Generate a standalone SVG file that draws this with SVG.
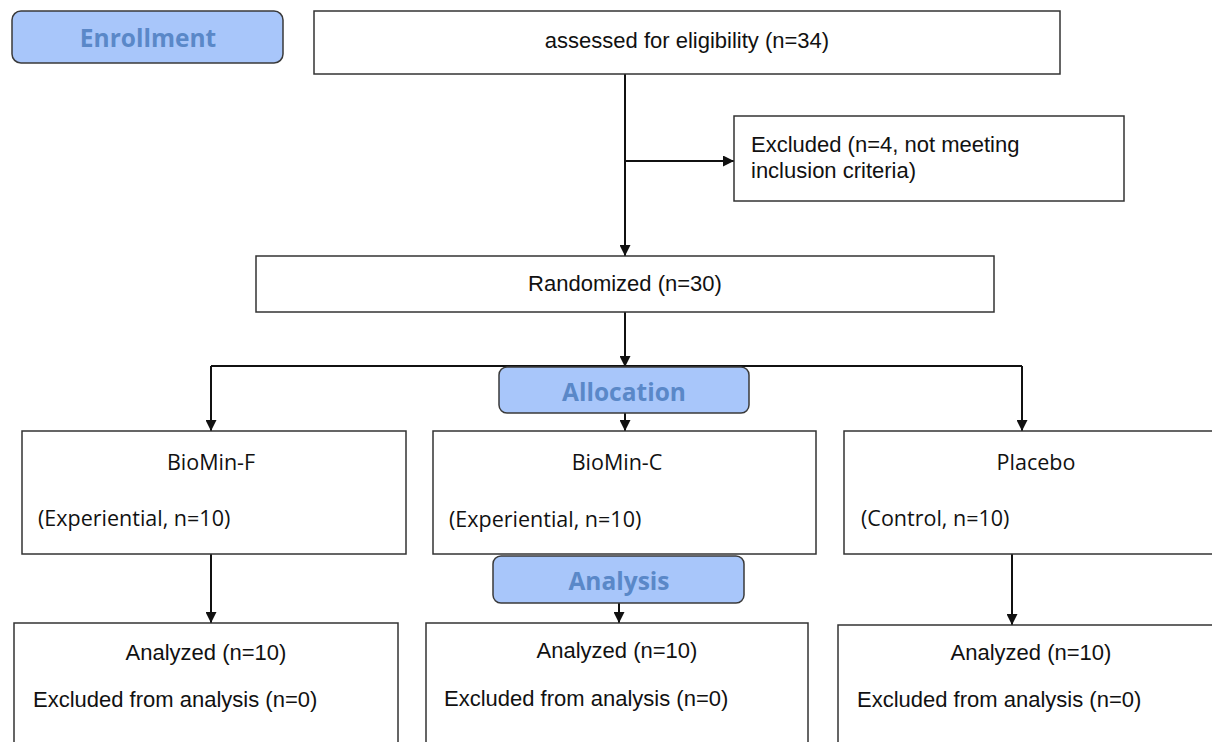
<svg xmlns="http://www.w3.org/2000/svg" width="1212" height="742" viewBox="0 0 1212 742">
<style>
.box{fill:#ffffff;stroke:#333333;stroke-width:1.5}
.hdr{fill:#a8c6fa;stroke:#3a3a3a;stroke-width:1.5}
.ht{font-family:"Open Sans","Liberation Sans",sans-serif;font-weight:bold;font-size:24.5px;fill:#5a88c8;text-anchor:middle}
.t{font-family:"Liberation Sans",Arial,sans-serif;font-size:22px;fill:#111111}
.c{font-family:"Open Sans","Liberation Sans",sans-serif;font-size:21.5px;fill:#111111}
.mid{text-anchor:middle}
.ln{fill:none;stroke:#111111;stroke-width:2}
</style>
<defs>
<marker id="arr" viewBox="0 0 10 10" refX="10" refY="5" markerWidth="11" markerHeight="11" markerUnits="userSpaceOnUse" orient="auto">
<path d="M0,0 L10,5 L0,10 z" fill="#111111"/>
</marker>
</defs>
<rect width="1212" height="742" fill="#ffffff"/>
<g id="connectors">
<path class="ln" d="M625,74 V256" marker-end="url(#arr)"/>
<path class="ln" d="M625,161 H734" marker-end="url(#arr)"/>
<path class="ln" d="M625,312 V367" marker-end="url(#arr)"/>
<path class="ln" d="M211,366 H1022"/>
<path class="ln" d="M211,366 V431" marker-end="url(#arr)"/>
<path class="ln" d="M1022,366 V431" marker-end="url(#arr)"/>
<path class="ln" d="M625,413 V431" marker-end="url(#arr)"/>
<path class="ln" d="M211,554 V623" marker-end="url(#arr)"/>
<path class="ln" d="M619,603 V623" marker-end="url(#arr)"/>
<path class="ln" d="M1012,554 V625" marker-end="url(#arr)"/>
</g>
<g id="enrollment">
<rect class="hdr" x="12" y="11" width="271" height="52" rx="9"/>
<text class="ht" x="148" y="47">Enrollment</text>
</g>
<g id="assessed">
<rect class="box" x="314" y="11" width="746" height="63"/>
<text class="t mid" x="687" y="48">assessed for eligibility (n=34)</text>
</g>
<g id="excluded">
<rect class="box" x="734" y="116" width="390" height="85"/>
<text class="t" x="751" y="152">Excluded (n=4, not meeting</text>
<text class="t" x="751" y="178">inclusion criteria)</text>
</g>
<g id="randomized">
<rect class="box" x="256" y="256" width="738" height="56"/>
<text class="t mid" x="625" y="291">Randomized (n=30)</text>
</g>
<g id="allocation">
<rect class="hdr" x="499" y="367" width="250" height="46" rx="8"/>
<text class="ht" x="624" y="401">Allocation</text>
</g>
<g id="biomin-f">
<rect class="box" x="22" y="431" width="384" height="123"/>
<text class="c mid" x="211" y="470">BioMin-F</text>
<text class="c" x="38" y="526">(Experiential, n=10)</text>
</g>
<g id="biomin-c">
<rect class="box" x="433" y="431" width="383" height="123"/>
<text class="c mid" x="617" y="470">BioMin-C</text>
<text class="c" x="449" y="527">(Experiential, n=10)</text>
</g>
<g id="placebo">
<rect class="box" x="844" y="431" width="384" height="123"/>
<text class="c mid" x="1036" y="470">Placebo</text>
<text class="c" x="861" y="526">(Control, n=10)</text>
</g>
<g id="analysis">
<rect class="hdr" x="493" y="556" width="251" height="47" rx="8"/>
<text class="ht" x="619" y="590">Analysis</text>
</g>
<g id="analyzed-f">
<rect class="box" x="14" y="623" width="384" height="130"/>
<text class="t mid" x="206" y="660">Analyzed (n=10)</text>
<text class="t" x="33" y="707">Excluded from analysis (n=0)</text>
</g>
<g id="analyzed-c">
<rect class="box" x="426" y="623" width="382" height="130"/>
<text class="t mid" x="617" y="658">Analyzed (n=10)</text>
<text class="t" x="444" y="706">Excluded from analysis (n=0)</text>
</g>
<g id="analyzed-p">
<rect class="box" x="838" y="625" width="384" height="130"/>
<text class="t mid" x="1031" y="660">Analyzed (n=10)</text>
<text class="t" x="857" y="707">Excluded from analysis (n=0)</text>
</g>
</svg>
